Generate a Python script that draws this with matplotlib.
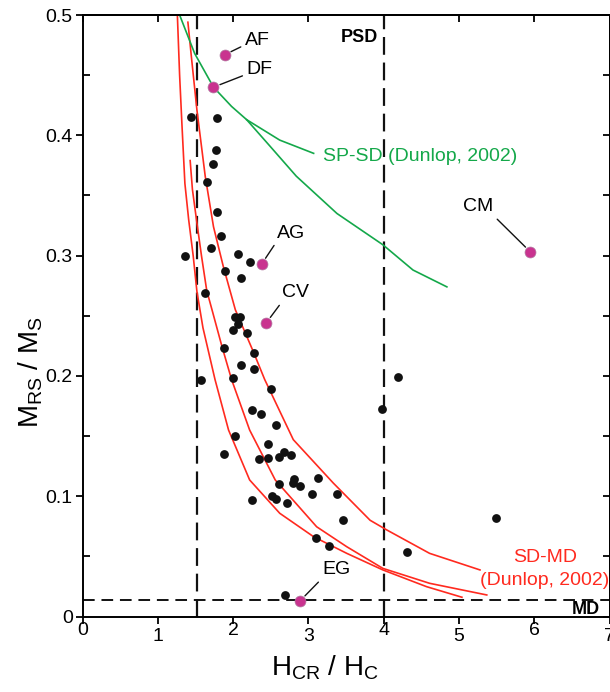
import matplotlib
matplotlib.use('Agg')
import matplotlib.pyplot as plt
from matplotlib.ticker import MultipleLocator

plt.rcParams['font.family'] = 'Liberation Sans'
plt.rcParams['mathtext.fontset'] = 'custom'
plt.rcParams['mathtext.rm'] = 'Liberation Sans'
plt.rcParams['mathtext.it'] = 'Liberation Sans:italic'

# --- data ---
# black dots: samples
sample_hcr_hc = [1.44, 1.79, 1.77, 1.73, 1.66, 1.79, 1.84, 1.36, 1.71, 2.06,
                 2.22, 1.89, 2.10, 1.63, 2.02, 2.09, 2.06, 2.00, 2.18, 1.88,
                 2.28, 2.10, 2.28, 2.00, 1.57, 2.50, 2.25, 2.37, 2.57, 2.03,
                 2.46, 1.88, 2.34, 2.46, 2.61, 2.68, 2.77, 2.81, 2.80, 2.89,
                 3.13, 3.05, 3.38, 2.52, 2.57, 2.71, 2.25, 3.46, 3.10, 3.27,
                 4.31, 5.49, 2.69, 3.98, 4.19, 2.61]
sample_mrs_ms = [0.415, 0.414, 0.388, 0.376, 0.361, 0.336, 0.316, 0.300, 0.306, 0.301,
                 0.295, 0.287, 0.281, 0.269, 0.249, 0.249, 0.243, 0.238, 0.236, 0.223,
                 0.219, 0.209, 0.206, 0.198, 0.197, 0.189, 0.172, 0.168, 0.159, 0.150,
                 0.143, 0.135, 0.131, 0.1315, 0.133, 0.137, 0.134, 0.114, 0.111, 0.1085,
                 0.115, 0.102, 0.102, 0.100, 0.098, 0.094, 0.097, 0.080, 0.0655, 0.059,
                 0.0534, 0.082, 0.0178, 0.1725, 0.199, 0.110]

# magenta dots: named sites
site_names = ['AF', 'DF', 'AG', 'CV', 'CM', 'EG']
site_hcr_hc = [1.89, 1.74, 2.38, 2.44, 5.95, 2.89]
site_mrs_ms = [0.467, 0.440, 0.293, 0.244, 0.303, 0.013]

# SD-MD mixing curves (Dunlop, 2002)
sdmd1_x = [1.26, 1.29, 1.32, 1.36, 1.41, 1.47, 1.52, 1.60, 1.76, 1.94, 2.22,
           2.62, 3.07, 3.51, 3.99, 4.57, 5.04]
sdmd1_y = [0.500, 0.450, 0.410, 0.360, 0.330, 0.300, 0.270, 0.240, 0.197, 0.155, 0.1135,
           0.0858, 0.0663, 0.0525, 0.0387, 0.0248, 0.016]
sdmd2_x = [1.43, 1.46, 1.52, 1.58, 1.65, 1.72, 1.85, 1.98, 2.22, 2.56, 3.11, 3.51,
           3.99, 4.61, 5.37]
sdmd2_y = [0.379, 0.355, 0.327, 0.300, 0.271, 0.255, 0.225, 0.197, 0.155, 0.1135, 0.0746, 0.058,
           0.040, 0.0276, 0.0179]
sdmd3_x = [1.40, 1.45, 1.52, 1.63, 1.74, 1.87, 2.03, 2.27, 2.42, 2.80, 3.33, 3.82,
           4.04, 4.61, 5.28]
sdmd3_y = [0.494, 0.463, 0.421, 0.366, 0.324, 0.291, 0.255, 0.220, 0.197, 0.147, 0.111, 0.080,
           0.072, 0.0525, 0.0387]

# SP-SD mixing curves (Dunlop, 2002)
spsd1_x = [1.29, 1.49, 1.74, 1.98, 2.18, 2.49, 2.84, 3.38, 3.99, 4.39, 4.84]
spsd1_y = [0.500, 0.468, 0.440, 0.424, 0.413, 0.391, 0.366, 0.335, 0.309, 0.288, 0.274]
spsd2_x = [2.18, 2.62, 3.07]
spsd2_y = [0.413, 0.396, 0.385]

# domain boundaries
hcr_bounds = [1.52, 4.0]
mrs_bound = 0.014

x_ticks = [0, 1, 2, 3, 4, 5, 6, 7]
x_tick_labels = ['0', '1', '2', '3', '4', '5', '6', '7']
y_ticks = [0, 0.1, 0.2, 0.3, 0.4, 0.5]
y_tick_labels = ['0', '0.1', '0.2', '0.3', '0.4', '0.5']

red = '#ff2a1f'
green = '#14a84a'
magenta = '#c9338f'

fig = plt.figure(figsize=(6.1, 6.92), dpi=100)
ax = fig.add_axes([82.5 / 610, 75.5 / 692, 527 / 610, 601.5 / 692])

for xb in hcr_bounds:
    ax.axvline(xb, color='#111111', lw=1.6, ls=(0, (8, 3.5)), zorder=1)
ax.axhline(mrs_bound, color='#111111', lw=1.4, ls=(0, (6, 3.5)), zorder=1)

ax.plot(sdmd1_x, sdmd1_y, color=red, lw=1.2, zorder=2)
ax.plot(sdmd2_x, sdmd2_y, color=red, lw=1.2, zorder=2)
ax.plot(sdmd3_x, sdmd3_y, color=red, lw=1.2, zorder=2)
ax.plot(spsd1_x, spsd1_y, color=green, lw=1.2, zorder=2)
ax.plot(spsd2_x, spsd2_y, color=green, lw=1.2, zorder=2)

ax.scatter(sample_hcr_hc, sample_mrs_ms, s=40, color='#111111', lw=0, zorder=3)
ax.scatter(site_hcr_hc, site_mrs_ms, s=62, color=magenta, edgecolor='#b07aa0',
           lw=0.5, zorder=4)

# site labels with leader lines (offsets in pixels, relpos = where the line leaves the text)
label_offsets = {'AF': (20, 14, 'left', (0, 0.25)),
                 'DF': (33, 18, 'left', (0, 0.2)),
                 'AG': (15, 31, 'left', (0, 0)),
                 'CV': (16, 30, 'left', (0, 0)),
                 'CM': (-37, 45, 'right', (1, 0)),
                 'EG': (22, 31, 'left', (0, 0))}
for name, x, y in zip(site_names, site_hcr_hc, site_mrs_ms):
    dx, dy, ha, rp = label_offsets[name]
    ax.annotate(name, (x, y), xytext=(dx, dy), textcoords='offset pixels',
                ha=ha, va='center', fontsize=14,
                arrowprops=dict(arrowstyle='-', color='#111111', lw=1.0,
                                shrinkA=1, shrinkB=5, relpos=rp))

ax.text(3.19, 0.382, 'SP-SD (Dunlop, 2002)', color=green, fontsize=14,
        ha='left', va='center')
ax.text(6.14, 0.049, 'SD-MD', color=red, fontsize=14, ha='center', va='center')
ax.text(6.14, 0.0303, '(Dunlop, 2002)', color=red, fontsize=14, ha='center', va='center')
ax.text(3.925, 0.481, 'PSD', fontsize=13, fontweight='bold', ha='right', va='center')
ax.text(6.87, 0.0056, 'MD', fontsize=13, fontweight='bold', ha='right', va='center')

ax.set_xlim(0, 7)
ax.set_ylim(0, 0.5)
for sp in ax.spines.values():
    sp.set_linewidth(1.4)

ax.set_xticks(x_ticks)
ax.tick_params(axis='x', which='major', direction='out', length=5, width=1.3,
               labelbottom=False)
ax.set_yticks(y_ticks)
ax.set_yticklabels(y_tick_labels)
ax.yaxis.set_minor_locator(MultipleLocator(0.05))
ax.tick_params(axis='y', which='major', direction='out', length=5, width=1.3,
               labelsize=14, pad=2)
ax.tick_params(axis='y', which='minor', direction='in', length=5, width=1.3)

# x tick labels are staggered in the original figure
for i, (xt, lab) in enumerate(zip(x_ticks, x_tick_labels)):
    yoff = -0.023 if i % 2 == 0 else -0.034
    ax.text(xt, yoff, lab, transform=ax.get_xaxis_transform(), fontsize=14,
            ha='center', va='center', clip_on=False)

top = ax.secondary_xaxis('top')
top.set_xticks(x_ticks)
top.tick_params(direction='in', length=5, width=1.3, labeltop=False)
top.spines['top'].set_linewidth(1.4)

right = ax.secondary_yaxis('right')
right.yaxis.set_major_locator(MultipleLocator(0.05))
right.tick_params(direction='in', length=5, width=1.3, labelright=False)
right.spines['right'].set_linewidth(1.4)

fig.text(325 / 610, 1 - 668 / 692, r'$\mathregular{H_{CR}\ /\ H_C}$',
         fontsize=20, ha='center', va='center')
fig.text(31 / 610, 1 - 372 / 692, r'$\mathregular{M_{RS}\ /\ M_S}$',
         fontsize=20, ha='center', va='center', rotation=90)

fig.savefig('out.png', dpi=100)
